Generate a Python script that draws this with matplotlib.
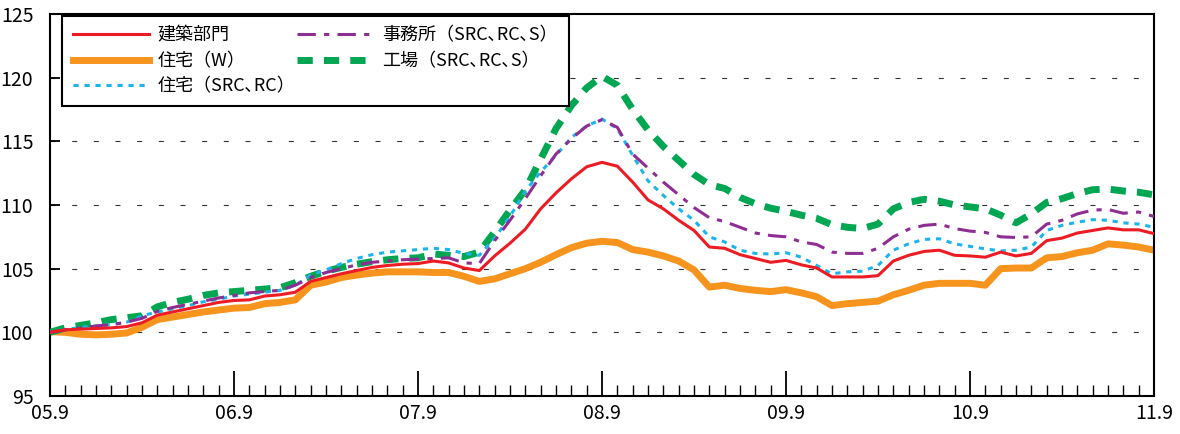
import matplotlib
matplotlib.use("Agg")
import matplotlib.pyplot as plt
from matplotlib.ticker import MultipleLocator

plt.rcParams['font.family'] = ['Noto Sans CJK JP', 'DejaVu Sans']

# 月次データ（05.9 〜 11.9、73か月）
months = list(range(73))
tick_pos = [0, 12, 24, 36, 48, 60, 72]
tick_labels = ['05.9', '06.9', '07.9', '08.9', '09.9', '10.9', '11.9']

kenchiku = [100.0, 100.2, 100.25, 100.3, 100.35, 100.45, 100.75, 101.35, 101.6, 101.85, 102.1, 102.35, 102.5,
            102.55, 102.85, 102.95, 103.15, 104.0, 104.3, 104.6, 104.85, 105.1, 105.25, 105.35, 105.4,
            105.6, 105.45, 105.05, 104.85, 106.0, 107.0, 108.1, 109.7, 110.95, 112.05, 113.0, 113.35,
            113.05, 111.8, 110.4, 109.7, 108.8, 108.0, 106.7, 106.6, 106.1, 105.8, 105.5, 105.65,
            105.3, 105.05, 104.35, 104.35, 104.35, 104.45, 105.6, 106.05, 106.35, 106.45, 106.05, 106.0,
            105.9, 106.3, 106.0, 106.2, 107.2, 107.4, 107.8, 108.0, 108.2, 108.05, 108.05, 107.75]

jutaku_w = [100.05, 100.0, 99.85, 99.8, 99.85, 99.95, 100.4, 101.0, 101.2, 101.4, 101.6, 101.75, 101.9,
            101.95, 102.25, 102.35, 102.55, 103.7, 103.95, 104.3, 104.5, 104.65, 104.75, 104.75, 104.75,
            104.7, 104.7, 104.4, 104.0, 104.2, 104.6, 105.0, 105.5, 106.1, 106.65, 107.0, 107.15,
            107.05, 106.5, 106.3, 106.0, 105.6, 104.9, 103.55, 103.7, 103.45, 103.3, 103.2, 103.35,
            103.1, 102.8, 102.1, 102.25, 102.35, 102.45, 102.95, 103.3, 103.7, 103.85, 103.85, 103.85,
            103.7, 105.0, 105.05, 105.05, 105.85, 105.95, 106.25, 106.45, 106.95, 106.85, 106.7, 106.45]

jutaku_src = [100.0, 100.2, 100.4, 100.5, 100.6, 100.8, 101.3, 101.6, 101.85, 102.1, 102.4, 102.6, 102.85,
              103.0, 103.15, 103.3, 103.7, 104.5, 104.9, 105.4, 105.8, 106.1, 106.3, 106.4, 106.5,
              106.6, 106.5, 106.2, 106.05, 107.4, 109.1, 111.1, 112.6, 113.9, 115.3, 116.2, 116.75,
              116.0, 113.9, 111.9, 110.75, 109.7, 108.8, 107.5, 107.1, 106.45, 106.2, 106.15, 106.25,
              105.9, 105.25, 104.6, 104.75, 104.8, 105.25, 106.45, 106.95, 107.3, 107.35, 106.95, 106.75,
              106.55, 106.4, 106.45, 106.7, 108.0, 108.4, 108.65, 108.85, 108.8, 108.6, 108.5, 108.25]

jimusho = [100.0, 100.2, 100.35, 100.5, 100.6, 100.8, 101.1, 101.65, 101.95, 102.2, 102.45, 102.7, 102.9,
           103.1, 103.2, 103.3, 103.7, 104.3, 104.7, 105.0, 105.3, 105.5, 105.6, 105.7, 105.75,
           105.8, 105.85, 105.45, 105.4, 107.2, 108.8, 110.5, 112.3, 114.0, 115.2, 116.2, 116.7,
           116.1, 114.0, 112.9, 111.8, 110.8, 109.8, 109.0, 108.7, 108.25, 107.8, 107.6, 107.5,
           107.1, 106.9, 106.3, 106.2, 106.2, 106.6, 107.5, 108.1, 108.4, 108.5, 108.15, 107.95,
           107.85, 107.5, 107.45, 107.5, 108.5, 108.8, 109.3, 109.6, 109.65, 109.35, 109.45, 109.1]

kojo = [100.0, 100.35, 100.55, 100.75, 101.0, 101.15, 101.3, 102.0, 102.35, 102.6, 102.9, 103.1, 103.2,
        103.3, 103.4, 103.5, 103.9, 104.4, 104.8, 105.1, 105.35, 105.55, 105.7, 105.8, 105.85,
        106.15, 106.05, 105.95, 106.3, 107.9, 109.6, 111.2, 113.6, 116.0, 117.8, 119.2, 120.1,
        119.4, 117.5, 115.9, 114.6, 113.5, 112.4, 111.6, 111.3, 110.6, 110.1, 109.75, 109.5,
        109.2, 108.95, 108.45, 108.25, 108.15, 108.5, 109.7, 110.2, 110.45, 110.3, 110.0, 109.85,
        109.7, 109.2, 108.6, 109.3, 110.2, 110.5, 110.9, 111.2, 111.25, 111.1, 111.0, 110.8]

fig = plt.figure(figsize=(11.8, 4.34), dpi=100)
ax = fig.add_axes([50/1180, 1-396/434, 1104/1180, 382/434])

# グリッド
for yv in [100, 105, 110, 115, 120]:
    ax.axhline(yv, color='#333333', lw=0.8, linestyle=(0, (4.5, 15)), zorder=1)

l_w, = ax.plot(months, jutaku_w, color='#F7941D', lw=5.0, zorder=2, label='住宅（W）')
l_k, = ax.plot(months, kojo, color='#00A651', lw=5.0, linestyle=(0, (2.2, 1.6)), zorder=3,
               label='工場（SRC､RC､S）')
l_s, = ax.plot(months, jutaku_src, color='#1CB5EA', lw=2.2, linestyle=(0, (1.7, 1.9)), zorder=4,
               label='住宅（SRC､RC）')
l_j, = ax.plot(months, jimusho, color='#8E2D92', lw=2.2, linestyle=(0, (6, 2.7, 1.7, 2.7)), zorder=5,
               label='事務所（SRC､RC､S）')
l_r, = ax.plot(months, kenchiku, color='#ED1C24', lw=2.2, zorder=6, label='建築部門')

ax.set_xlim(0, 72)
ax.set_ylim(95, 125)
ax.set_yticks([95, 100, 105, 110, 115, 120, 125])
ax.set_xticks(tick_pos)
ax.set_xticklabels(tick_labels)
ax.xaxis.set_minor_locator(MultipleLocator(1))
ax.tick_params(axis='x', which='major', direction='in', length=18, width=1.3, labelsize=14, pad=5)
ax.tick_params(axis='x', which='minor', direction='in', length=8, width=1.0)
ax.tick_params(axis='y', which='major', direction='in', length=7, width=1.3, labelsize=14, pad=12)
for s in ax.spines.values():
    s.set_linewidth(1.5)

leg = ax.legend(handles=[l_r, l_w, l_s, l_j, l_k], ncol=2, loc='upper left',
                bbox_to_anchor=(0.011, 0.995), borderaxespad=0, fontsize=13,
                frameon=True, fancybox=False, edgecolor='black', framealpha=1,
                handlelength=4.2, handletextpad=0.5, columnspacing=0.1,
                labelspacing=0.4, borderpad=0.6)
leg.get_frame().set_linewidth(1.5)
leg.set_zorder(10)

fig.savefig('out.png', dpi=100)
